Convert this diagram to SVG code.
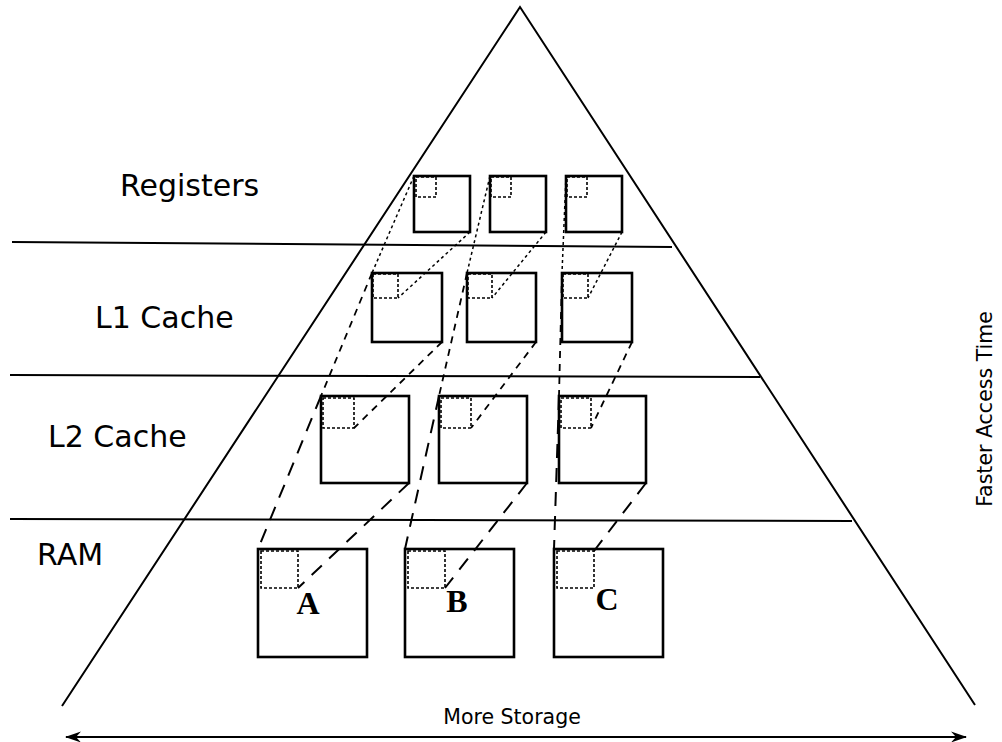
<svg xmlns="http://www.w3.org/2000/svg" width="1002" height="742" viewBox="0 0 1002 742">
<style>
.box{fill:none;stroke:#000;stroke-width:2.6}
.dsq{fill:none;stroke:#000;stroke-width:1.6;stroke-dasharray:3,2}
.lvl{fill:none;stroke:#000;stroke-width:2}
.c1{stroke:#000;stroke-width:1.5;stroke-dasharray:3,3}
.c2{stroke:#000;stroke-width:1.8;stroke-dasharray:7,6}
.c3{stroke:#000;stroke-width:2;stroke-dasharray:14,10}
.lab{font-family:"DejaVu Sans",sans-serif;font-size:30px;fill:#000}
.sm{font-family:"DejaVu Sans",sans-serif;font-size:20.5px;fill:#000}
.let{font-family:"Liberation Serif",serif;font-weight:bold;font-size:32px;fill:#000;text-anchor:middle}
</style>
<defs>
<marker id="ah" markerWidth="16" markerHeight="12" refX="15" refY="6" orient="auto-start-reverse" markerUnits="userSpaceOnUse">
<path d="M0,0.5 L16,6 L0,11.5 L5,6 Z" fill="#000"/>
</marker>
</defs>
<g id="pyramid">
<polyline class="lvl" points="62,706 520,7 975,705"/>
<line class="lvl" x1="12" y1="242" x2="672" y2="247"/>
<line class="lvl" x1="10" y1="375" x2="760" y2="377"/>
<line class="lvl" x1="10" y1="519" x2="852" y2="521"/>
</g>
<g id="labels">
<text class="lab" x="120" y="196">Registers</text>
<text class="lab" x="95" y="328">L1 Cache</text>
<text class="lab" x="48" y="447">L2 Cache</text>
<text class="lab" x="37" y="565">RAM</text>
<text class="sm" x="512" y="724" text-anchor="middle">More Storage</text>
<text class="sm" transform="translate(992,409) rotate(-90)" text-anchor="middle">Faster Access Time</text>
</g>
<g id="registers">
<rect class="box" x="414" y="176" width="56" height="56"/>
<rect class="dsq" x="416" y="177" width="20" height="20"/>
<rect class="box" x="490" y="176" width="56" height="56"/>
<rect class="dsq" x="491" y="177" width="20" height="20"/>
<rect class="box" x="566" y="176" width="56" height="56"/>
<rect class="dsq" x="567" y="177" width="20" height="20"/>
</g>
<g id="l1">
<rect class="box" x="372" y="273" width="70" height="69"/>
<rect class="dsq" x="373" y="274" width="25" height="24"/>
<rect class="box" x="467" y="273" width="69" height="69"/>
<rect class="dsq" x="468" y="274" width="24" height="24"/>
<rect class="box" x="562" y="273" width="70" height="69"/>
<rect class="dsq" x="563" y="274" width="25" height="24"/>
</g>
<g id="l2">
<rect class="box" x="321" y="396" width="88" height="87"/>
<rect class="dsq" x="323" y="398" width="31" height="30"/>
<rect class="box" x="439" y="396" width="88" height="87"/>
<rect class="dsq" x="441" y="398" width="30" height="30"/>
<rect class="box" x="559" y="396" width="87" height="87"/>
<rect class="dsq" x="561" y="398" width="30" height="30"/>
</g>
<g id="ram">
<rect class="box" x="258" y="549" width="109" height="108"/>
<rect class="dsq" x="261" y="551" width="37" height="37"/>
<text class="let" x="308" y="614">A</text>
<rect class="box" x="405" y="549" width="109" height="108"/>
<rect class="dsq" x="408" y="551" width="37" height="37"/>
<text class="let" x="457" y="612">B</text>
<rect class="box" x="554" y="549" width="109" height="108"/>
<rect class="dsq" x="557" y="551" width="37" height="37"/>
<text class="let" x="607" y="610">C</text>
</g>
<g id="connectors">
<line class="c1" x1="414" y1="176" x2="372" y2="273"/>
<line class="c1" x1="470" y1="232" x2="398" y2="298"/>
<line class="c1" x1="490" y1="176" x2="467" y2="273"/>
<line class="c1" x1="546" y1="232" x2="492" y2="298"/>
<line class="c1" x1="566" y1="176" x2="562" y2="273"/>
<line class="c1" x1="622" y1="232" x2="588" y2="298"/>
<line class="c2" x1="372" y1="273" x2="321" y2="396"/>
<line class="c2" x1="442" y1="342" x2="354" y2="428"/>
<line class="c2" x1="467" y1="273" x2="439" y2="396"/>
<line class="c2" x1="536" y1="342" x2="471" y2="428"/>
<line class="c2" x1="562" y1="273" x2="559" y2="396"/>
<line class="c2" x1="632" y1="342" x2="591" y2="428"/>
<line class="c3" x1="321" y1="396" x2="258" y2="549"/>
<line class="c3" x1="409" y1="483" x2="298" y2="588"/>
<line class="c3" x1="439" y1="396" x2="405" y2="549"/>
<line class="c3" x1="527" y1="483" x2="445" y2="588"/>
<line class="c3" x1="559" y1="396" x2="554" y2="549"/>
<line class="c3" x1="646" y1="483" x2="594" y2="551"/>
<line x1="66" y1="737" x2="966" y2="737" stroke="#000" stroke-width="2" marker-start="url(#ah)" marker-end="url(#ah)"/>
</g>
</svg>
